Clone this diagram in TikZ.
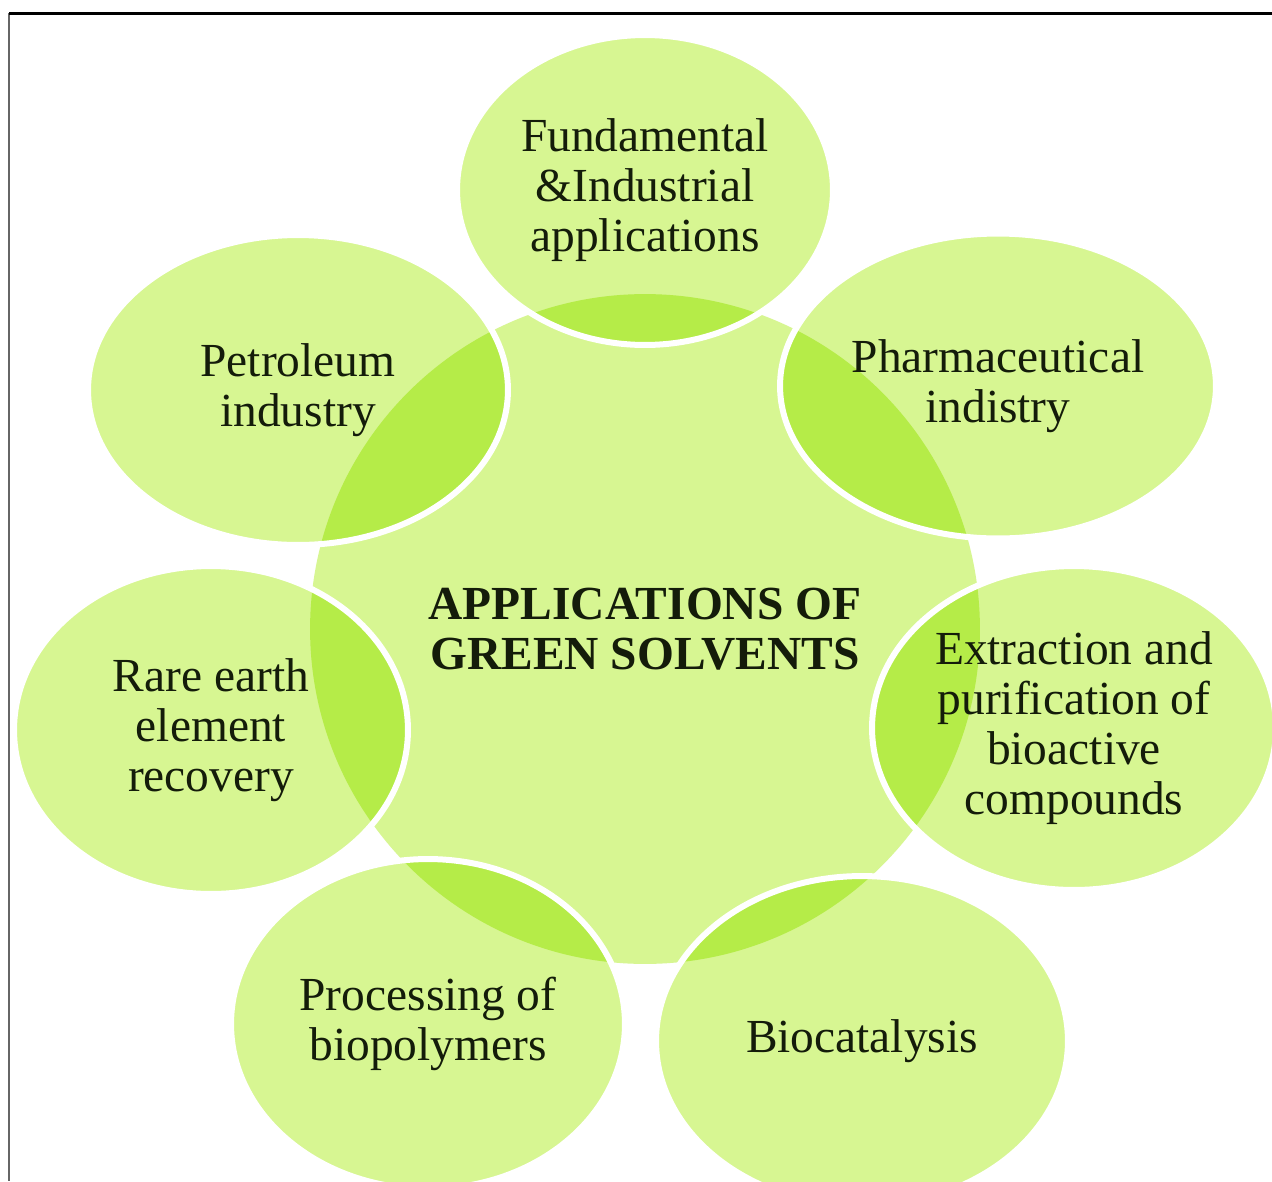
\documentclass[tikz,border=0pt]{standalone}
\usepackage{fontspec}
\setmainfont{Liberation Serif}
\usetikzlibrary{shapes.geometric}
\definecolor{vlight}{RGB}{215,246,146}
\definecolor{vdark}{RGB}{181,236,72}
\definecolor{vtext}{RGB}{20,28,10}
\begin{document}
\begin{tikzpicture}[x=0.02cm,y=-0.02cm,
  blob/.style={ellipse, inner sep=0pt, fill=vlight, draw=white, line width=0.12cm,
    path picture={\fill[vdark] (hub.center) circle [radius=6.7cm];}},
  lbl/.style={align=center, text=vtext, font=\fontsize{27}{28.5}\selectfont}]
\useasboundingbox (0,0) rectangle (1272,1181);
\fill[white] (0,0) rectangle (1272,1181);
% frame
\coordinate (tl) at (9,13);
\coordinate (tr) at (1272,13);
\coordinate (bl) at (9,1181);
\draw[black!60, line width=0.04cm] (tl) -- (bl);
\draw[black, line width=0.06cm] (tl) -- (tr);
% central circle
\node[circle, inner sep=0pt, minimum size=13.4cm, fill=vlight, align=center,
  font=\fontsize{27}{28.5}\selectfont\bfseries, text=vtext] (hub) at (645,629)
  {APPLICATIONS OF\\GREEN SOLVENTS};
% outer circles
\node[blob, minimum width=7.52cm, minimum height=6.2cm, lbl] (fund) at (645,190)
  {Fundamental\\\&Industrial\\applications};
\node[blob, minimum width=8.72cm, minimum height=6.1cm, lbl] (pharma) at (998,386)
  {Pharmaceutical\\indistry};
\node[blob, minimum width=8.08cm, minimum height=6.48cm, lbl] (extr) at (1074,728)
  {Extraction and\\purification of\\bioactive\\compounds};
\node[blob, minimum width=8.24cm, minimum height=6.6cm, lbl] (bio) at (862,1041)
  {Biocatalysis};
\node[blob, minimum width=7.88cm, minimum height=6.6cm, lbl] (proc) at (428,1024)
  {Processing of\\biopolymers};
\node[blob, minimum width=7.88cm, minimum height=6.56cm, lbl] (rare) at (211,730)
  {Rare earth\\element\\recovery};
\node[blob, minimum width=8.4cm, minimum height=6.2cm, lbl] (petro) at (298,390)
  {Petroleum\\industry};
\end{tikzpicture}
\end{document}
